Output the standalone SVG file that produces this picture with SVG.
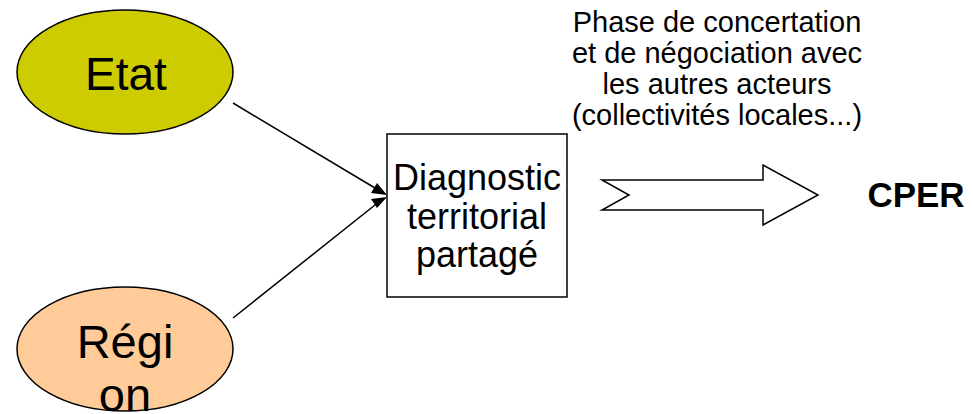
<svg xmlns="http://www.w3.org/2000/svg" width="973" height="414" viewBox="0 0 973 414">
<style>
text{font-family:"Liberation Sans",Arial,sans-serif;fill:#000;text-anchor:middle}
.node{stroke:#000;stroke-width:1.5}
.conn{stroke:#000;stroke-width:1.5;fill:none}
.head{fill:#000;stroke:none}
</style>
<rect width="973" height="414" fill="#fff"/>
<g id="etat">
<ellipse class="node" cx="125" cy="72" rx="108" ry="62" fill="#cccc00"/>
<text x="126" y="90" font-size="46">Etat</text>
</g>
<g id="region">
<ellipse class="node" cx="125" cy="349" rx="108" ry="62" fill="#ffcc99"/>
<text x="125" y="358" font-size="47">Régi</text>
<text x="125" y="411" font-size="47">on</text>
</g>
<g id="diagnostic">
<rect class="node" x="387" y="134" width="180" height="163" fill="#fff"/>
<text x="477" y="190" font-size="36">Diagnostic</text>
<text x="477" y="229" font-size="36">territorial</text>
<text x="477" y="267" font-size="36">partagé</text>
</g>
<g id="phase">
<text x="717" y="32" font-size="29">Phase de concertation</text>
<text x="717" y="63" font-size="29">et de négociation avec</text>
<text x="717" y="94" font-size="29">les autres acteurs</text>
<text x="717" y="125" font-size="29">(collectivités locales...)</text>
</g>
<g id="cper">
<text x="916" y="207" font-size="35" font-weight="bold">CPER</text>
</g>
<g id="connectors">
<line class="conn" x1="233" y1="103" x2="380" y2="191"/>
<line class="conn" x1="233" y1="318" x2="380" y2="201"/>
<path class="head" d="M387,195 L371,193 L377,183 z"/>
<path class="head" d="M387,197 L377,208 L371,199 z"/>
<path class="conn" d="M602,180 L763,180 L763,165 L818,195 L763,225 L763,210 L602,210 L629,195 z" fill="#fff"/>
</g>
</svg>
